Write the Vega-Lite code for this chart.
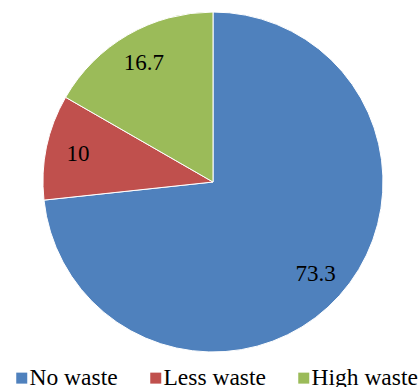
{
  "$schema": "https://vega.github.io/schema/vega-lite/v6.json",
  "width": 426,
  "height": 364,
  "autosize": {"type": "none"},
  "padding": {"left": 0, "top": 0, "right": 0, "bottom": 23},
  "background": "white",
  "data": {"values": [
    {"category": "No waste", "value": 73.3, "rank": 1},
    {"category": "Less waste", "value": 10, "rank": 2},
    {"category": "High waste", "value": 16.7, "rank": 3}
  ]},
  "encoding": {
    "theta": {"field": "value", "type": "quantitative", "stack": true},
    "order": {"field": "rank", "type": "quantitative"}
  },
  "layer": [
    {
      "mark": {"type": "arc", "outerRadius": 170, "stroke": "white", "strokeWidth": 1},
      "encoding": {
        "color": {
          "field": "category", "type": "nominal",
          "scale": {"domain": ["No waste", "Less waste", "High waste"], "range": ["#4F81BD", "#C0504D", "#9BBB59"]},
          "legend": {
            "orient": "none", "legendX": 10, "legendY": 366, "direction": "horizontal",
            "title": null, "symbolType": "square", "symbolSize": 121, "symbolStrokeWidth": 0,
            "labelFont": "Liberation Serif", "labelFontSize": 23.5, "labelColor": "black",
            "columnPadding": 26, "labelOffset": -4, "padding": 0
          }
        }
      }
    },
    {
      "mark": {"type": "text", "radius": 138, "font": "Liberation Serif", "fontSize": 23, "color": "black"},
      "encoding": {"text": {"field": "value", "type": "quantitative"}}
    }
  ],
  "config": {"view": {"stroke": null}}
}
